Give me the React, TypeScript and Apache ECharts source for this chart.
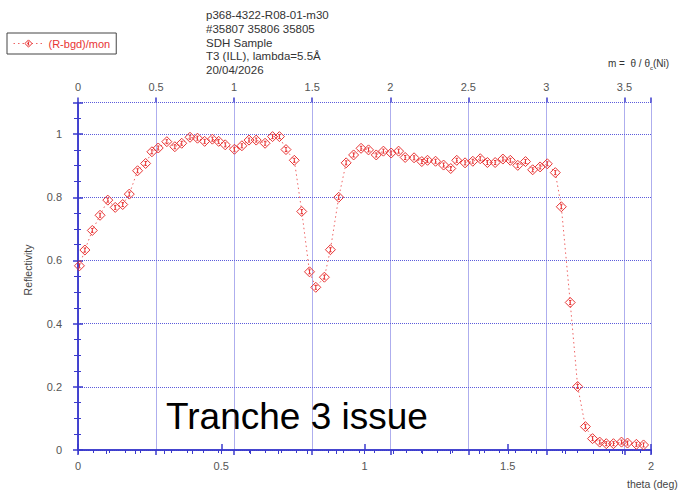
import React, { useEffect, useRef } from "react";
import * as echarts from "echarts";

const thetaDeg = [
  0.005, 0.024, 0.05, 0.077, 0.104, 0.13, 0.156, 0.179, 0.208, 0.236,
  0.258, 0.28, 0.31, 0.338, 0.362, 0.391, 0.417, 0.442, 0.469, 0.491,
  0.514, 0.546, 0.572, 0.597, 0.622, 0.653, 0.679, 0.703, 0.726, 0.755,
  0.781, 0.808, 0.83, 0.86, 0.881, 0.91, 0.936, 0.962, 0.988, 1.014,
  1.041, 1.066, 1.093, 1.119, 1.142, 1.173, 1.2, 1.22, 1.248, 1.276,
  1.301, 1.322, 1.351, 1.378, 1.404, 1.429, 1.456, 1.483, 1.509, 1.535,
  1.562, 1.587, 1.613, 1.638, 1.666, 1.687, 1.718, 1.744, 1.771, 1.796,
  1.821, 1.844, 1.869, 1.897, 1.918, 1.949, 1.974,
];
const reflectivity = [
  0.583, 0.633, 0.695, 0.743, 0.791, 0.768, 0.777, 0.81, 0.884, 0.907,
  0.944, 0.956, 0.976, 0.96, 0.971, 0.99, 0.987, 0.977, 0.984, 0.977,
  0.966, 0.952, 0.963, 0.981, 0.981, 0.971, 0.992, 0.992, 0.951, 0.917,
  0.755, 0.564, 0.515, 0.547, 0.634, 0.8, 0.909, 0.934, 0.955, 0.95,
  0.934, 0.946, 0.94, 0.946, 0.926, 0.925, 0.913, 0.917, 0.914, 0.902,
  0.891, 0.917, 0.909, 0.914, 0.922, 0.91, 0.91, 0.921, 0.917, 0.901,
  0.913, 0.887, 0.896, 0.906, 0.878, 0.77, 0.467, 0.201, 0.074, 0.036,
  0.025, 0.02, 0.02, 0.025, 0.022, 0.018, 0.016,
];
const headerLines = [
  "p368-4322-R08-01-m30",
  "#35807 35806 35805",
  "SDH Sample",
  "T3 (ILL), lambda=5.5Å",
  "20/04/2026",
];
const seriesName = "(R-bgd)/mon";
const thetaMin = 0;
const thetaMax = 2;
const mMin = 0;
const mMax = 3.67;
const yMin = 0;
const yMax = 1.1;

export default function App() {
  const ref = useRef<HTMLDivElement>(null);
  useEffect(() => {
    const chart = echarts.init(ref.current!, null, { renderer: "svg" });
    const axisBlue = "#3a3acc";
    const gridBlue = "#5c5cdc";
    const labelGrey = "#555555";
    const red = "#e83434";
    const font = "Liberation Sans, Arial, sans-serif";
    const axisLabel = { color: labelGrey, fontSize: 11, fontFamily: font };
    const data = thetaDeg.map((t, i) => [t, reflectivity[i]]);
    const markerPath = "path://M5 0L10 5L5 10L0 5Z M5 3V7 M3.8 3H6.2 M3.8 7H6.2";

    chart.setOption({
      animation: false,
      backgroundColor: "#ffffff",
      grid: { left: 78, right: 28, top: 102.5, bottom: 42, show: false },
      legend: {
        data: [seriesName],
        left: 7,
        top: 33,
        borderColor: "#444",
        borderWidth: 1,
        borderRadius: 0,
        padding: [5, 6],
        itemWidth: 30,
        itemHeight: 9,
        itemStyle: { color: "rgba(255,255,255,0)", borderColor: red, borderWidth: 1 },
        lineStyle: { color: "#ee6464", width: 1, type: [1.5, 3] },
        textStyle: { color: red, fontSize: 11, fontFamily: font },
      },
      xAxis: [
        {
          type: "value",
          position: "bottom",
          min: thetaMin,
          max: thetaMax,
          interval: 0.5,
          axisLine: { show: true, lineStyle: { color: axisBlue, width: 1.5 } },
          axisTick: { show: true, inside: true, length: 6, lineStyle: { color: axisBlue, width: 1.5 } },
          axisLabel: { ...axisLabel, margin: 10 },
          splitLine: { show: false },
        },
        {
          type: "value",
          position: "top",
          min: mMin,
          max: mMax,
          interval: 0.5,
          axisLine: { show: true, lineStyle: { color: axisBlue, width: 1.5 } },
          axisTick: { show: true, inside: true, length: 5, lineStyle: { color: axisBlue, width: 1.5 } },
          minorTick: { show: true, splitNumber: 5, length: 3, lineStyle: { color: axisBlue, width: 1 } },
          axisLabel: { ...axisLabel, margin: 10, showMaxLabel: false },
          splitLine: { show: true, lineStyle: { color: gridBlue, width: 1, type: [1, 1] } },
        },
        {
          type: "value",
          position: "bottom",
          min: thetaMin,
          max: thetaMax,
          interval: 0.1,
          axisLine: { show: false },
          axisTick: { show: true, inside: false, length: 4, lineStyle: { color: axisBlue, width: 1 } },
          axisLabel: { show: false },
          splitLine: { show: false },
        },
        {
          type: "value",
          position: "top",
          min: mMin,
          max: mMax,
          interval: 0.5,
          axisLine: { show: false },
          axisTick: { show: true, inside: false, length: 5, lineStyle: { color: axisBlue, width: 1.5 } },
          axisLabel: { show: false },
          splitLine: { show: false },
        },
      ],
      yAxis: [
        {
          type: "value",
          position: "left",
          min: yMin,
          max: yMax,
          interval: 0.2,
          axisLine: { show: true, lineStyle: { color: axisBlue, width: 1.5 } },
          axisTick: { show: true, inside: false, length: 5, lineStyle: { color: axisBlue, width: 1.5 } },
          minorTick: { show: true, splitNumber: 4, length: 4, lineStyle: { color: axisBlue, width: 1 } },
          axisLabel: { ...axisLabel, margin: 16, showMaxLabel: false },
          splitLine: { show: true, lineStyle: { color: gridBlue, width: 1, type: [1, 1] } },
        },
        {
          type: "value",
          position: "right",
          min: yMin,
          max: yMax,
          interval: 0.2,
          axisLine: { show: true, lineStyle: { color: axisBlue, width: 1.5 } },
          axisTick: { show: true, inside: false, length: 5, lineStyle: { color: axisBlue, width: 1.5 } },
          minorTick: { show: true, splitNumber: 4, length: 3, lineStyle: { color: axisBlue, width: 1 } },
          axisLabel: { show: false },
          splitLine: { show: false },
        },
      ],
      series: [
        {
          name: seriesName,
          type: "line",
          xAxisIndex: 0,
          yAxisIndex: 0,
          data,
          symbol: markerPath,
          symbolSize: 10,
          showAllSymbol: true,
          itemStyle: { color: "rgba(255,255,255,0)", borderColor: red, borderWidth: 1 },
          lineStyle: { color: "#ee6464", width: 1, type: [1.5, 3] },
          emphasis: { disabled: true },
          z: 5,
        },
      ],
      graphic: [
        ...headerLines.map((line, i) => ({
          type: "text",
          x: 206,
          y: 15 + i * 13.75,
          silent: true,
          style: {
            text: line,
            fill: "#333333",
            font: `11.5px ${font}`,
            align: "left",
            verticalAlign: "middle",
          },
        })),
        {
          type: "text",
          x: 608,
          y: 63,
          silent: true,
          style: {
            text: "m =  θ / θ{sub|c}(Ni)",
            fill: "#333333",
            font: `10px ${font}`,
            align: "left",
            verticalAlign: "middle",
            lineHeight: 16,
            rich: {
              sub: { fontSize: 6, fontFamily: font, fill: "#333333", verticalAlign: "bottom", lineHeight: 16 },
            },
          },
        },
        {
          type: "text",
          x: 27.5,
          y: 270,
          rotation: Math.PI / 2,
          silent: true,
          style: {
            text: "Reflectivity",
            fill: "#444444",
            font: `10.5px ${font}`,
            align: "center",
            verticalAlign: "middle",
          },
        },
        {
          type: "text",
          x: 627,
          y: 484,
          silent: true,
          style: {
            text: "theta (deg)",
            fill: "#444444",
            font: `10.5px ${font}`,
            align: "left",
            verticalAlign: "middle",
          },
        },
        {
          type: "text",
          x: 166,
          y: 416,
          silent: true,
          z: 10,
          style: {
            text: "Tranche 3 issue",
            fill: "#000000",
            font: `37px ${font}`,
            align: "left",
            verticalAlign: "middle",
          },
        },
      ],
    });
    return () => chart.dispose();
  }, []);
  return (
    <div
      ref={ref}
      style={{ position: "fixed", left: 0, top: 0, width: 679, height: 492, background: "#ffffff" }}
    />
  );
}
